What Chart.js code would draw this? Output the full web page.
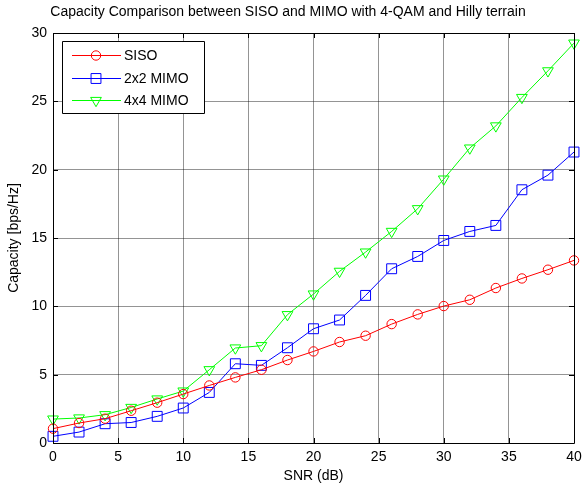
<!DOCTYPE html>
<html>
<head>
<meta charset="utf-8">
<script src="https://cdn.jsdelivr.net/npm/chart.js@4.4.1/dist/chart.umd.min.js"></script>
<style>
html,body{margin:0;padding:0;background:#fff;}
#wrap{width:582px;height:489px;position:relative;}
</style>
</head>
<body>
<div id="wrap"><canvas id="c" width="582" height="489"></canvas></div>
<script>
const snr = [0,2,4,6,8,10,12,14,16,18,20,22,24,26,28,30,32,34,36,38,40];
const siso = [1.05,1.46,1.78,2.36,2.95,3.58,4.21,4.80,5.36,6.07,6.70,7.39,7.85,8.70,9.41,10.02,10.48,11.34,12.04,12.68,13.36];
const mimo2 = [0.49,0.80,1.41,1.50,1.95,2.56,3.70,5.80,5.68,6.97,8.36,9.00,10.80,12.75,13.65,14.82,15.48,15.92,18.53,19.60,21.29];
const mimo4 = [1.75,1.83,2.07,2.60,3.22,3.80,5.36,6.95,7.12,9.39,10.90,12.56,13.97,15.48,17.14,19.31,21.58,23.20,25.28,27.23,29.26];
const xTicks = [0,5,10,15,20,25,30,35,40];
const yTicks = [0,5,10,15,20,25,30];
const seriesLabels = ['SISO','2x2 MIMO','4x4 MIMO'];
const titleText = 'Capacity Comparison between SISO and MIMO with 4-QAM and Hilly terrain';
const xLabel = 'SNR (dB)';
const yLabel = 'Capacity [bps/Hz]';

const FONT = 'Liberation Sans, Arial, sans-serif';

function pts(ys){ return snr.map((x,i)=>({x:x,y:ys[i]})); }

const dsStyle = [
  {color:'#ff0000', pointStyle:'circle', radius:4.7, rotation:0},
  {color:'#0000ff', pointStyle:'rect', radius:7, rotation:0},
  {color:'#00ff00', pointStyle:'triangle', radius:6.2, rotation:180}
];
const seriesData = [siso, mimo2, mimo4];

const datasets = seriesData.map((d,i)=>({
  label: seriesLabels[i],
  data: pts(d),
  borderColor: dsStyle[i].color,
  backgroundColor: 'rgba(0,0,0,0)',
  borderWidth: 1,
  pointStyle: dsStyle[i].pointStyle,
  pointRadius: dsStyle[i].radius,
  pointRotation: dsStyle[i].rotation,
  pointBorderColor: dsStyle[i].color,
  pointBackgroundColor: 'rgba(0,0,0,0)',
  pointBorderWidth: 1,
  pointHoverRadius: dsStyle[i].radius,
  tension: 0,
  fill: false,
  clip: false
}));

const frame = {
  id:'frame',
  afterDraw(chart){
    const {ctx, chartArea:a, scales} = chart;
    ctx.save();
    ctx.strokeStyle = '#000';
    ctx.lineWidth = 1;
    ctx.beginPath();
    ctx.rect(Math.round(a.left)+0.5, Math.round(a.top)+0.5, Math.round(a.right-a.left), Math.round(a.bottom-a.top));
    ctx.stroke();
    const tl = 5;
    ctx.beginPath();
    xTicks.forEach(v=>{
      const px = Math.round(scales.x.getPixelForValue(v))+0.5;
      ctx.moveTo(px, a.bottom); ctx.lineTo(px, a.bottom - tl);
      ctx.moveTo(px, a.top); ctx.lineTo(px, a.top + tl);
    });
    yTicks.forEach(v=>{
      const py = Math.round(scales.y.getPixelForValue(v))+0.5;
      ctx.moveTo(a.left, py); ctx.lineTo(a.left + tl, py);
      ctx.moveTo(a.right, py); ctx.lineTo(a.right - tl, py);
    });
    ctx.stroke();

    // legend
    const lx = 62, ly = 41, lw = 142, lh = 72;
    ctx.fillStyle = '#fff';
    ctx.fillRect(lx, ly, lw, lh);
    ctx.strokeStyle = '#000';
    ctx.beginPath();
    ctx.rect(lx+0.5, ly+0.5, lw, lh);
    ctx.stroke();
    const rows = [55, 78, 100];
    chart.data.datasets.forEach((ds,i)=>{
      const y = rows[i];
      ctx.strokeStyle = ds.borderColor;
      ctx.lineWidth = 1;
      ctx.beginPath();
      ctx.moveTo(72, y+0.5); ctx.lineTo(121, y+0.5);
      ctx.stroke();
      ctx.fillStyle = 'rgba(0,0,0,0)';
      Chart.helpers.drawPoint(ctx, {pointStyle: ds.pointStyle, radius: ds.pointRadius, rotation: ds.pointRotation, borderWidth:1}, 96, y+0.5);
      ctx.fillStyle = '#000';
      ctx.font = '14px ' + FONT;
      ctx.textBaseline = 'middle';
      ctx.textAlign = 'left';
      ctx.fillText(ds.label, 124, y+1);
    });
    ctx.restore();
  }
};

new Chart(document.getElementById('c'), {
  type:'line',
  data:{datasets:datasets},
  options:{
    responsive:false,
    animation:false,
    layout:{padding:{left:0,right:6,top:0,bottom:0}},
    plugins:{
      legend:{display:false},
      tooltip:{enabled:false},
      title:{display:true, text:titleText, color:'#000', font:{family:FONT, size:14, weight:'normal'}, padding:{top:4, bottom:12.2}}
    },
    scales:{
      x:{
        type:'linear', min:0, max:40,
        afterBuildTicks(s){ s.ticks = xTicks.map(v=>({value:v})); },
        afterFit(s){ s.height = 46; s.paddingRight = 0; s.paddingLeft = 0; },
        ticks:{color:'#000', font:{family:FONT, size:14}, padding:6, maxRotation:0, autoSkip:false},
        grid:{color:'rgba(0,0,0,0.42)', lineWidth:1, drawTicks:false},
        border:{display:false},
        title:{display:true, text:xLabel, color:'#000', font:{family:FONT, size:14}, padding:{top:0,bottom:4}}
      },
      y:{
        type:'linear', min:0, max:30,
        afterBuildTicks(s){ s.ticks = yTicks.map(v=>({value:v})); },
        afterFit(s){ s.width = 53; s.paddingTop = 0; s.paddingBottom = 0; },
        ticks:{color:'#000', font:{family:FONT, size:14}, padding:6, autoSkip:false},
        grid:{color:'rgba(0,0,0,0.42)', lineWidth:1, drawTicks:false},
        border:{display:false},
        title:{display:true, text:yLabel, color:'#000', font:{family:FONT, size:14}, padding:{top:6,bottom:0}}
      }
    }
  },
  plugins:[frame]
});
</script>
</body>
</html>
